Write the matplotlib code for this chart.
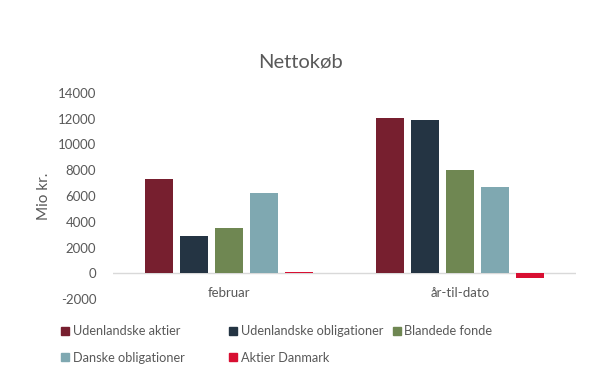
import matplotlib
matplotlib.use("Agg")
import matplotlib.pyplot as plt
import numpy as np
from matplotlib.patches import Patch

categories = ["februar", "år-til-dato"]
series_names = ["Udenlandske aktier", "Udenlandske obligationer", "Blandede fonde",
                "Danske obligationer", "Aktier Danmark"]
udenlandske_aktier = [7350, 12050]
udenlandske_obligationer = [2900, 11900]
blandede_fonde = [3500, 8050]
danske_obligationer = [6250, 6700]
aktier_danmark = [100, -350]
series_values = [udenlandske_aktier, udenlandske_obligationer, blandede_fonde,
                 danske_obligationer, aktier_danmark]
colors = ["#771F2F", "#243443", "#6F8752", "#7FA8B1", "#D80F32"]
yticks = [-2000, 0, 2000, 4000, 6000, 8000, 10000, 12000, 14000]

plt.rcParams['font.family'] = ['Lato', 'DejaVu Sans']
txt = "#595959"

fig = plt.figure(figsize=(6.0, 3.92), dpi=100)
ax = fig.add_axes([0.188, 0.2372, 0.772, 0.5256])

x = np.arange(len(categories))
step = 0.151
width = 0.121
n = len(series_values)
for i, (vals, c, name) in enumerate(zip(series_values, colors, series_names)):
    offs = (i - (n - 1) / 2) * step
    ax.bar(x + offs, vals, width=width, color=c, label=name, zorder=2)

ax.set_xlim(-0.5, 1.5)
ax.set_ylim(-2000, 14000)
ax.axhline(0, color="#D9D9D9", lw=1, zorder=1)
for s in ax.spines.values():
    s.set_visible(False)
ax.set_yticks(yticks)
ax.set_yticklabels([str(v) for v in yticks], fontsize=9.5, color=txt)
ax.set_xticks(x)
ax.set_xticklabels(categories, fontsize=9.5, color=txt)
ax.tick_params(axis='y', length=0, pad=12)
ax.tick_params(axis='x', length=0, pad=-9)
ax.set_ylabel("Mio kr.", fontsize=11, color=txt, labelpad=5)

fig.text(0.5, 0.843, "Nettokøb", ha="center", va="center", fontsize=14.5, color=txt)

legend_pos = [(0.102, 0.155), (0.382, 0.155), (0.655, 0.155),
              (0.102, 0.087), (0.382, 0.087)]
for (lx, ly), c, name in zip(legend_pos, colors, series_names):
    fig.legend(handles=[Patch(facecolor=c, edgecolor=c)], labels=[name],
               loc="center left", bbox_to_anchor=(lx, ly), frameon=False,
               fontsize=9.2, labelcolor=txt, handlelength=0.6, handleheight=0.6,
               handletextpad=0.3, borderpad=0, borderaxespad=0)

fig.savefig("out.png", dpi=100)
